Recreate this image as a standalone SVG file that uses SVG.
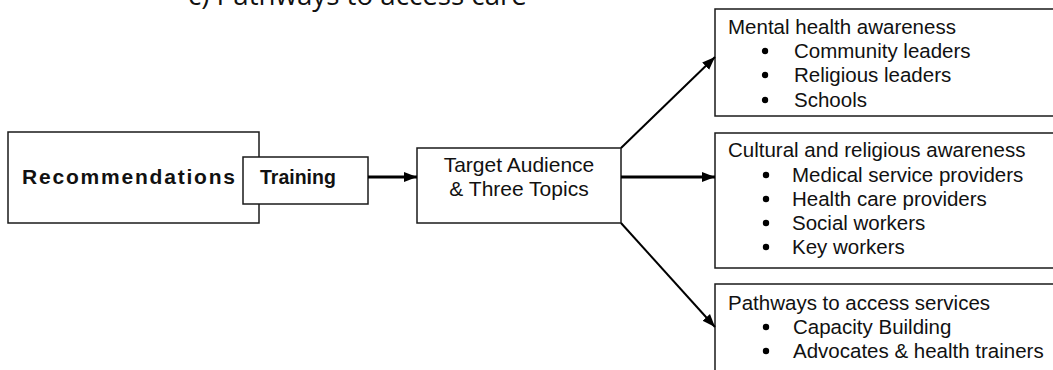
<svg xmlns="http://www.w3.org/2000/svg" width="1053" height="370" viewBox="0 0 1053 370">
  <style>
    .box { fill: #ffffff; stroke: #1a1a1a; stroke-width: 1.5; }
    .txt { font-family: "Liberation Sans", Arial, sans-serif; fill: #111111; }
    .item { font-family: "Liberation Sans", Arial, sans-serif; font-size: 20.5px; fill: #111111; }
    .heading { font-family: "Open Sans", sans-serif; font-size: 27.7px; fill: #111111; }
    .bullet { fill: #000000; }
    .link { stroke: #000000; fill: none; }
  </style>
  <defs>
    <marker id="head" markerUnits="userSpaceOnUse" markerWidth="14" markerHeight="12" refX="13" refY="6" orient="auto">
      <path d="M0,1 L13,6 L0,11 Z" fill="#000000"/>
    </marker>
  </defs>

  <rect width="1053" height="370" fill="#ffffff"/>

  <!-- heading, clipped by the top edge -->
  <text class="heading" x="188" y="5">c) Pathways to access care</text>

  <g id="recommendations">
    <rect class="box" x="8" y="132" width="251" height="91"/>
    <text class="txt" x="22" y="184" font-size="21" font-weight="bold" textLength="213" lengthAdjust="spacing">Recommendations</text>
  </g>

  <g id="training">
    <rect class="box" x="243" y="157" width="125" height="47"/>
    <text class="txt" x="260" y="184" font-size="19.5" font-weight="bold">Training</text>
  </g>

  <g id="target">
    <rect class="box" x="417" y="148" width="204" height="75"/>
    <text class="txt" x="519" y="172" font-size="21" text-anchor="middle">Target Audience</text>
    <text class="txt" x="519" y="196" font-size="21" text-anchor="middle">&amp; Three Topics</text>
  </g>

  <g id="mental-health">
    <rect class="box" x="715" y="9" width="350" height="107"/>
    <text class="item" x="728" y="34">Mental health awareness</text>
    <circle class="bullet" cx="765" cy="51" r="3.2"/>
    <text class="item" x="794" y="58">Community leaders</text>
    <circle class="bullet" cx="765" cy="75" r="3.2"/>
    <text class="item" x="794" y="82">Religious leaders</text>
    <circle class="bullet" cx="765" cy="100" r="3.2"/>
    <text class="item" x="794" y="107">Schools</text>
  </g>

  <g id="cultural">
    <rect class="box" x="715" y="133" width="350" height="135"/>
    <text class="item" x="728" y="157">Cultural and religious awareness</text>
    <circle class="bullet" cx="766" cy="175" r="3.2"/>
    <text class="item" x="792" y="182">Medical service providers</text>
    <circle class="bullet" cx="766" cy="199" r="3.2"/>
    <text class="item" x="792" y="206">Health care providers</text>
    <circle class="bullet" cx="766" cy="223" r="3.2"/>
    <text class="item" x="792" y="230">Social workers</text>
    <circle class="bullet" cx="766" cy="247" r="3.2"/>
    <text class="item" x="792" y="254">Key workers</text>
  </g>

  <g id="pathways">
    <rect class="box" x="715" y="284" width="350" height="100"/>
    <text class="item" x="728" y="310">Pathways to access services</text>
    <circle class="bullet" cx="766" cy="327" r="3.2"/>
    <text class="item" x="793" y="334">Capacity Building</text>
    <circle class="bullet" cx="766" cy="351" r="3.2"/>
    <text class="item" x="793" y="358">Advocates &amp; health trainers</text>
  </g>

  <g id="connectors">
    <line class="link" x1="368" y1="177" x2="417" y2="177" stroke-width="3" marker-end="url(#head)"/>
    <line class="link" x1="621" y1="177" x2="715" y2="177" stroke-width="3" marker-end="url(#head)"/>
    <line class="link" x1="621" y1="148" x2="715" y2="57" stroke-width="2" marker-end="url(#head)"/>
    <line class="link" x1="621" y1="223" x2="715" y2="327" stroke-width="2" marker-end="url(#head)"/>
  </g>
</svg>
